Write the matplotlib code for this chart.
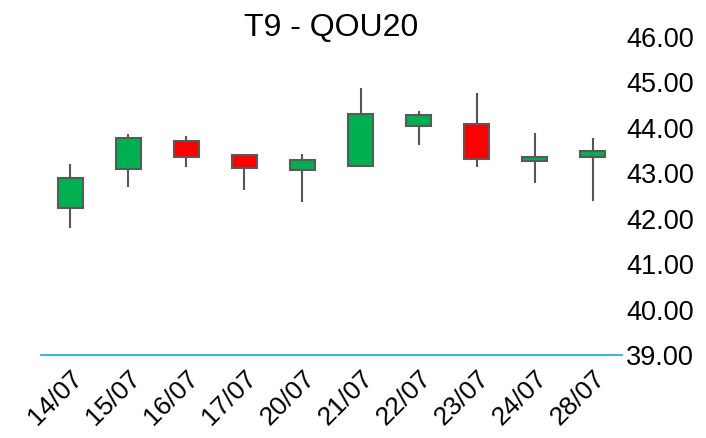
import matplotlib
matplotlib.use("Agg")
import matplotlib.pyplot as plt
from matplotlib.patches import Rectangle

dates = ["14/07", "15/07", "16/07", "17/07", "20/07", "21/07", "22/07", "23/07", "24/07", "28/07"]
opens = [42.24, 43.09, 43.70, 43.40, 43.08, 43.16, 44.04, 44.09, 43.27, 43.35]
highs = [43.20, 43.86, 43.81, 43.42, 43.42, 44.88, 44.38, 44.76, 43.89, 43.77]
lows = [41.79, 42.70, 43.13, 42.63, 42.36, 43.16, 43.62, 43.13, 42.78, 42.40]
closes = [42.90, 43.78, 43.35, 43.12, 43.29, 44.31, 44.28, 43.31, 43.36, 43.48]
yticks = [39, 40, 41, 42, 43, 44, 45, 46]
title = "T9 - QOU20"

plt.rcParams['font.family'] = ['Liberation Sans', 'DejaVu Sans']

fig = plt.figure(figsize=(7.06, 4.38), dpi=100)
ax = fig.add_axes([41/706, 1 - 355/438, (622-41)/706, (355-37)/438])

w = 0.43
for i, (o, h, l, c) in enumerate(zip(opens, highs, lows, closes)):
    col = "#00B050" if c >= o else "#FF0000"
    ax.vlines(i, l, h, color="#555555", linewidth=1.5, zorder=1)
    ax.add_patch(Rectangle((i - w/2, min(o, c)), w, abs(c - o), facecolor=col,
                           edgecolor="#595959", linewidth=1.5, zorder=2))

ax.set_xlim(-0.5, len(dates) - 0.5)
ax.set_ylim(39, 46)
ax.set_xticks(range(len(dates)))
ax.set_xticklabels(dates, rotation=45, ha="right", rotation_mode="anchor", fontsize=19)
ax.set_yticks(yticks)
ax.set_yticklabels([f"{v:.2f}" for v in yticks], fontsize=19.5)
ax.yaxis.tick_right()
ax.tick_params(axis="both", length=0)
ax.tick_params(axis="y", pad=3)
ax.tick_params(axis="x", pad=8)
for s in ["top", "left", "right"]:
    ax.spines[s].set_visible(False)
ax.spines["bottom"].set_color("#29ABE2")
ax.spines["bottom"].set_linewidth(1.3)
fig.text(331/706, 1 - 28/438, title, ha="center", va="center", fontsize=23)

fig.savefig("out.png", dpi=100)
